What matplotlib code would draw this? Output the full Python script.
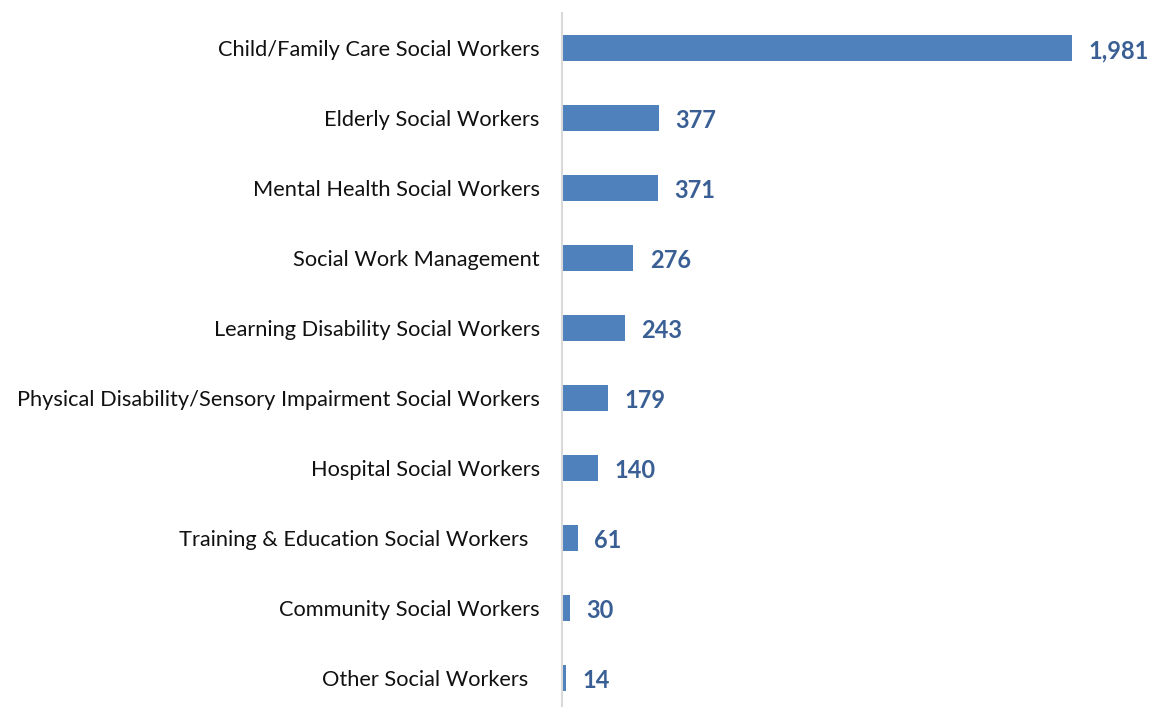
import matplotlib

matplotlib.use("Agg")
import matplotlib.pyplot as plt

categories = [
    "Child/Family Care Social Workers",
    "Elderly Social Workers",
    "Mental Health Social Workers",
    "Social Work Management",
    "Learning Disability Social Workers",
    "Physical Disability/Sensory Impairment Social Workers",
    "Hospital Social Workers",
    "Training & Education Social Workers  ",
    "Community Social Workers",
    "Other Social Workers  ",
]
counts = [1981, 377, 371, 276, 243, 179, 140, 61, 30, 14]

BAR_COLOR = "#4f81bd"
LABEL_COLOR = "#3a5f94"

plt.rcParams["font.family"] = ["Lato", "DejaVu Sans"]

fig = plt.figure(figsize=(11.56, 7.07), dpi=100)
ax = fig.add_axes([562 / 1156, -6 / 707, 1 - 562 / 1156, 700 / 707])

positions = list(range(len(categories)))
ax.barh(positions, counts, height=0.36, color=BAR_COLOR)
for pos, value in zip(positions, counts):
    ax.annotate(
        f"{value:,}",
        (value, pos),
        xytext=(12, -2),
        textcoords="offset points",
        ha="left",
        va="center",
        fontsize=17,
        fontweight="bold",
        color=LABEL_COLOR,
    )

ax.set_yticks(positions)
ax.set_yticklabels(categories, fontsize=15.7, color="#111111")
ax.tick_params(axis="y", length=0, pad=16)
ax.set_xticks([])
ax.set_xlim(0, 2307)
ax.set_ylim(len(categories) - 0.5, -0.5)
for side in ("top", "right", "bottom"):
    ax.spines[side].set_visible(False)
ax.spines["left"].set_color("#d9d9d9")
ax.spines["left"].set_linewidth(1.5)

fig.savefig("out.png", dpi=100)
